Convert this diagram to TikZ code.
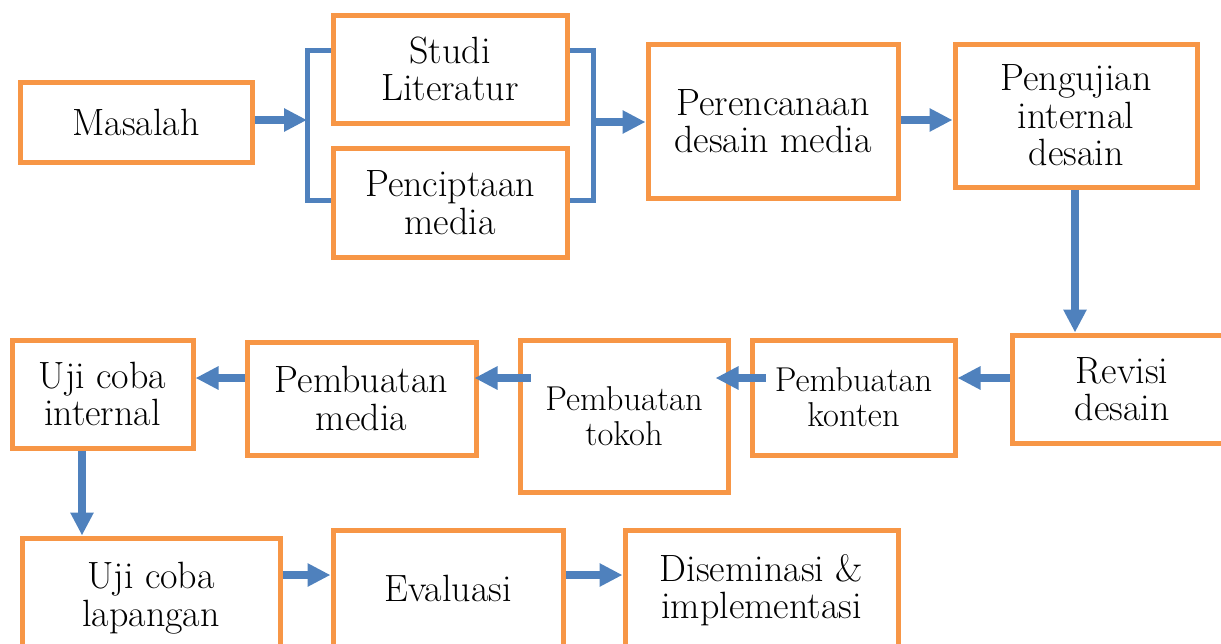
\documentclass[tikz,border=0pt]{standalone}
\usetikzlibrary{arrows.meta}
\definecolor{boxorange}{HTML}{F79646}
\definecolor{arrblue}{HTML}{4F81BD}
\begin{document}
\begin{tikzpicture}[x=1pt,y=-1pt,
  box/.style={draw=boxorange,line width=5pt,align=center,inner sep=0pt,
    font=\fontsize{38}{37.5}\selectfont},
  smallbox/.style={box,font=\fontsize{34.5}{35}\selectfont},
  arr/.style={draw=arrblue,line width=7.5pt,-{Triangle[length=23pt,width=22pt]}},
  brk/.style={draw=arrblue,line width=5pt}]
\useasboundingbox (0,0) rectangle (1221,643);
% row 1
\node[box,minimum width=232pt,minimum height=80pt] (masalah) at (136,122) {Masalah};
\node[box,minimum width=234pt,minimum height=108pt] (studi) at (450,69) {Studi\\Literatur};
\node[box,minimum width=234pt,minimum height=109pt] (penc) at (450,202.5) {Penciptaan\\media};
\node[box,minimum width=250pt,minimum height=154pt] (perenc) at (773,121) {Perencanaan\\desain media};
\node[box,minimum width=242pt,minimum height=143pt] (peng) at (1076,115.5) {Pengujian\\internal\\desain};
% row 2
\node[box,minimum width=220pt,minimum height=108pt] (revisi) at (1122,389) {Revisi\\desain};
\node[smallbox,minimum width=203pt,minimum height=115pt] (konten) at (853.5,397.5) {Pembuatan\\konten};
\node[smallbox,minimum width=208pt,minimum height=152pt] (tokoh) at (624,416) {Pembuatan\\tokoh};
\node[box,minimum width=229pt,minimum height=113pt] (pmedia) at (361.5,398.5) {Pembuatan\\media};
\node[box,minimum width=181pt,minimum height=108pt] (internal) at (102.5,394) {Uji coba\\internal};
% row 3
\node[box,minimum width=258pt,minimum height=120pt] (lapangan) at (151,598) {Uji coba\\lapangan};
\node[box,minimum width=230pt,minimum height=116pt] (eval) at (448,588) {Evaluasi};
\node[box,minimum width=273pt,minimum height=120pt] (disem) at (761.5,590) {Diseminasi \&\\implementasi};
% helper coordinates
\coordinate (tl) at (307,50);
\coordinate (bl) at (307,200);
\coordinate (tr) at (593,50);
\coordinate (br) at (593,200);
\coordinate (ml) at (307,120);
\coordinate (mr) at (593,122);
\coordinate (r1) at (0,120);
\coordinate (c1) at (1075,0);
\coordinate (r2) at (0,378);
\coordinate (c2) at (82,0);
\coordinate (r3) at (0,575);
% brackets
\draw[brk] (studi.west |- tl) -- (tl) -- (bl) -- (penc.west |- bl);
\draw[brk] (studi.east |- tr) -- (tr) -- (br) -- (penc.east |- br);
% arrows
\draw[arr] (masalah.east |- ml) -- (ml);
\draw[arr] (mr) -- (perenc.west |- mr);
\draw[arr] (perenc.east |- r1) -- (peng.west |- r1);
\draw[arr] (peng.south -| c1) -- (revisi.north -| c1);
\draw[arr] (revisi.west |- r2) -- (konten.east |- r2);
\draw[arr,shorten <=-16pt,shorten >=-15pt] (konten.west |- r2) -- (tokoh.east |- r2);
\draw[arr,shorten <=-13pt,shorten >=-4pt] (tokoh.west |- r2) -- (pmedia.east |- r2);
\draw[arr] (pmedia.west |- r2) -- (internal.east |- r2);
\draw[arr] (internal.south -| c2) -- (lapangan.north -| c2);
\draw[arr] (lapangan.east |- r3) -- (eval.west |- r3);
\draw[arr] (eval.east |- r3) -- (disem.west |- r3);
\end{tikzpicture}
\end{document}
